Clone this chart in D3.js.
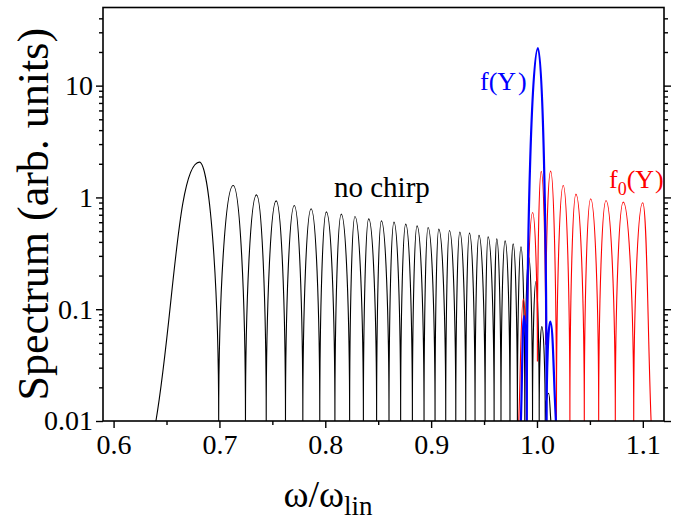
<!DOCTYPE html>
<html lang="en">
  <head>
    <meta charset="UTF-8" />
    <title>Spectrum</title>
    <style>
      body { margin: 0; background: #fff; }
      svg text { font-family: "Liberation Serif", "Times New Roman", serif; }
    </style>
  </head>
  <body>
    <div id="chart"></div>

    <script src="https://d3js.org/d3.v7.min.js"></script>
    <script>

    // no chirp (black): alternating minimum / peak of each lobe
    var noChirpX = [0.640, 0.6811, 0.6993, 0.7130, 0.7246, 0.7350, 0.7442, 0.7536, 0.7624, 0.7707,
                    0.7788, 0.7866, 0.7948, 0.8010, 0.8091, 0.8151, 0.8230, 0.8280, 0.8360, 0.8410,
                    0.8485, 0.8530, 0.8602, 0.8649, 0.8712, 0.8760, 0.8823, 0.8867, 0.8933, 0.8971,
                    0.9037, 0.9072, 0.9138, 0.9173, 0.9233, 0.9271, 0.9327, 0.9362, 0.9415, 0.9452,
                    0.9510, 0.9538, 0.9595, 0.9620, 0.9660, 0.9699, 0.9745, 0.9775, 0.9815, 0.9849,
                    0.9885, 0.9923, 0.9958, 0.9990, 1.0021, 1.0046, 1.0078, 1.0110, 1.0131];
    var noChirpY = [0.01, 2.07, 0.01, 1.28, 0.01, 1.055, 0.01, 0.932, 0.01, 0.846,
                    0.01, 0.791, 0.01, 0.743, 0.01, 0.709, 0.01, 0.675, 0.01, 0.643,
                    0.01, 0.617, 0.01, 0.601, 0.01, 0.577, 0.01, 0.557, 0.01, 0.538,
                    0.01, 0.520, 0.01, 0.506, 0.01, 0.489, 0.01, 0.479, 0.01, 0.458,
                    0.01, 0.444, 0.01, 0.426, 0.01, 0.409, 0.01, 0.384, 0.01, 0.361,
                    0.01, 0.292, 0.01, 0.177, 0.01, 0.0698, 0.01, 0.0177, 0.01];

    // f(Y) (blue)
    var fX = [0.9848, 0.9879, 0.9904, 1.0009, 1.0091, 1.0125, 1.0179];
    var fY = [0.01, 0.087, 0.01, 21.7, 0.01, 0.0774, 0.01];

    // f0(Y) (red)
    var f0X = [0.9828, 0.9871, 0.9901, 0.9959, 1.0004, 1.0040, 1.0082, 1.0129, 1.0184, 1.0248,
               1.0311, 1.0368, 1.0447, 1.0507, 1.0583, 1.0652, 1.0740, 1.0815, 1.0914, 1.0999, 1.1078];
    var f0Y = [0.01, 0.123, 0.01, 0.733, 0.034, 1.71, 0.048, 1.72, 0.01, 1.28,
               0.01, 1.07, 0.01, 0.972, 0.01, 0.938, 0.01, 0.907, 0.01, 0.895, 0.01];

    var xMajor = [0.6, 0.7, 0.8, 0.9, 1.0, 1.1];
    var xMinor = [0.65, 0.75, 0.85, 0.95, 1.05];
    var yMajor = [0.01, 0.1, 1, 10];
    var yMajorLabels = ["0.01", "0.1", "1", "10"];
    var yMinor = [0.02, 0.03, 0.04, 0.05, 0.06, 0.07, 0.08, 0.09,
                  0.2, 0.3, 0.4, 0.5, 0.6, 0.7, 0.8, 0.9,
                  2, 3, 4, 5, 6, 7, 8, 9, 20, 30, 40];

    var W = 682, H = 525;
    var m = {left: 103, top: 7.5, right: 18, bottom: 104};
    var serif = "'Liberation Serif', 'Times New Roman', serif";

    var svg = d3.select("#chart").append("svg")
                .attr("width", W)
                .attr("height", H)
                .attr("font-family", serif);

    var x = d3.scaleLinear().domain([0.59, 1.12]).range([m.left, W - m.right]);
    var y = d3.scaleLog().domain([0.01, 50]).range([H - m.bottom, m.top]);

    // lobe curve: rounded tops, vertical cusps at interior minima
    function LobeCurve(context) { this._context = context; }
    LobeCurve.prototype = {
      areaStart: function() { this._line = 0; },
      areaEnd: function() { this._line = NaN; },
      lineStart: function() { this._pts = []; },
      point: function(px, py) { this._pts.push([+px, +py]); },
      lineEnd: function() {
        var p = this._pts, c = this._context, n = p.length;
        if (!n) return;
        c.moveTo(p[0][0], p[0][1]);
        for (var i = 0; i < n - 1; i++) {
          var a = p[i], b = p[i + 1];
          var dx = b[0] - a[0], dy = b[1] - a[1];
          var c1, c2;
          if (a[1] < b[1]) {            // a is a peak
            c1 = [a[0] + 0.5 * dx, a[1]];
          } else if (i === 0) {          // open start
            c1 = [a[0] + 0.4 * dx, a[1] + 0.4 * dy];
          } else {                       // cusp
            c1 = [a[0], a[1] + 0.55 * dy];
          }
          if (b[1] < a[1]) {            // b is a peak
            c2 = [b[0] - 0.5 * dx, b[1]];
          } else if (i === n - 2) {
            c2 = [b[0] - 0.4 * dx, b[1] - 0.4 * dy];
          } else {
            c2 = [b[0], b[1] - 0.55 * dy];
          }
          c.bezierCurveTo(c1[0], c1[1], c2[0], c2[1], b[0], b[1]);
        }
      }
    };
    var curveLobe = function(ctx) { return new LobeCurve(ctx); };

    var line = d3.line()
                 .x(function(d) { return x(d[0]); })
                 .y(function(d) { return y(d[1]); })
                 .curve(curveLobe);

    svg.append("clipPath").attr("id", "clip")
       .append("rect")
       .attr("x", m.left).attr("y", m.top)
       .attr("width", W - m.left - m.right)
       .attr("height", H - m.top - m.bottom);

    var series = [
      {xs: noChirpX, ys: noChirpY, color: "#000000", width: 1.1},
      {xs: f0X, ys: f0Y, color: "#ff0000", width: 1.1},
      {xs: fX, ys: fY, color: "#0000ff", width: 2.2}
    ];

    var plot = svg.append("g").attr("clip-path", "url(#clip)");
    series.forEach(function(s) {
      plot.append("path")
          .datum(d3.zip(s.xs, s.ys))
          .attr("d", line)
          .attr("fill", "none")
          .attr("stroke", s.color)
          .attr("stroke-width", s.width);
    });

    // axes
    svg.append("g")
       .attr("transform", "translate(0," + (H - m.bottom) + ")")
       .call(d3.axisBottom(x).tickValues(xMajor).tickSize(7).tickPadding(6)
               .tickFormat(d3.format(".1f")));
    svg.append("g")
       .attr("transform", "translate(0," + (H - m.bottom) + ")")
       .call(d3.axisBottom(x).tickValues(xMinor).tickSize(4).tickFormat(""));

    svg.append("g")
       .attr("transform", "translate(" + m.left + ",0)")
       .call(d3.axisLeft(y).tickValues(yMajor).tickSize(7).tickPadding(3)
               .tickFormat(function(d, i) { return yMajorLabels[i]; }));
    svg.append("g")
       .attr("transform", "translate(" + m.left + ",0)")
       .call(d3.axisLeft(y).tickValues(yMinor).tickSize(4).tickFormat(""));

    svg.append("g")
       .attr("transform", "translate(" + (W - m.right) + ",0)")
       .call(d3.axisLeft(y).tickValues(yMajor).tickSize(-7).tickFormat(""));
    svg.append("g")
       .attr("transform", "translate(" + (W - m.right) + ",0)")
       .call(d3.axisLeft(y).tickValues(yMinor).tickSize(-4).tickFormat(""));

    svg.selectAll(".domain").remove();
    svg.selectAll(".tick line").attr("stroke", "#000").attr("stroke-width", 1.4);
    svg.selectAll("g[font-family]").attr("font-family", serif).attr("font-size", 28);
    svg.selectAll(".tick text")
       .attr("fill", "#000")
       .attr("font-family", serif);

    svg.append("rect")
       .attr("x", m.left).attr("y", m.top)
       .attr("width", W - m.left - m.right)
       .attr("height", H - m.top - m.bottom)
       .attr("fill", "none")
       .attr("stroke", "#000")
       .attr("stroke-width", 1.6);

    // axis titles
    svg.append("text")
       .attr("transform", "translate(48," + ((m.top + H - m.bottom) / 2) + ") rotate(-90)")
       .attr("text-anchor", "middle")
       .attr("font-size", 44)
       .text("Spectrum (arb. units)");

    var xt = svg.append("text")
       .attr("x", 328).attr("y", 507)
       .attr("text-anchor", "middle")
       .attr("font-size", 38);
    xt.append("tspan").text("\u03c9/\u03c9");
    xt.append("tspan").attr("dy", 8).attr("font-size", 27).text("lin");

    // curve labels
    svg.append("text")
       .attr("x", 334).attr("y", 197)
       .attr("font-size", 29)
       .text("no chirp");

    var fl = svg.append("text")
       .attr("x", 480).attr("y", 90)
       .attr("fill", "#0000ff")
       .attr("font-size", 26);
    fl.append("tspan").text("f(Y");
    fl.append("tspan").attr("dx", 2).text(")");

    var f0l = svg.append("text")
       .attr("x", 609).attr("y", 188)
       .attr("fill", "#ff0000")
       .attr("font-size", 26);
    f0l.append("tspan").text("f");
    f0l.append("tspan").attr("dy", 7).attr("font-size", 18).text("0");
    f0l.append("tspan").attr("dy", -7).text("(Y");
    f0l.append("tspan").attr("dx", 1).text(")");

    </script>
  </body>
</html>
